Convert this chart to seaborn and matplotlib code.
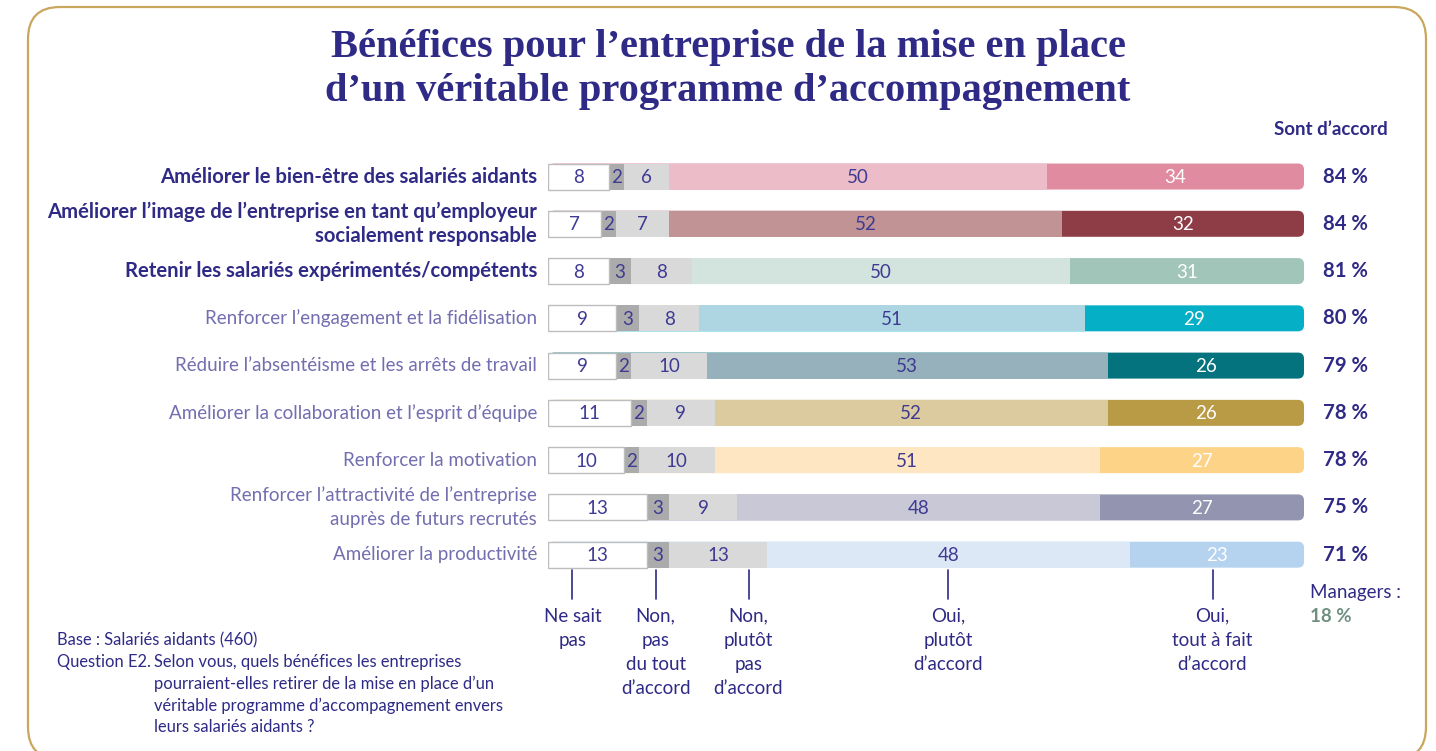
import matplotlib
matplotlib.use("Agg")
import matplotlib.pyplot as plt
from matplotlib.patches import FancyBboxPatch
import numpy as np
import pandas as pd
import seaborn as sns

# --- data ---
categories = [
    "Améliorer le bien-être des salariés aidants",
    "Améliorer l\u2019image de l\u2019entreprise en tant qu\u2019employeur\nsocialement responsable",
    "Retenir les salariés expérimentés/compétents",
    "Renforcer l\u2019engagement et la fidélisation",
    "Réduire l\u2019absentéisme et les arrêts de travail",
    "Améliorer la collaboration et l\u2019esprit d\u2019équipe",
    "Renforcer la motivation",
    "Renforcer l\u2019attractivité de l\u2019entreprise\nauprès de futurs recrutés",
    "Améliorer la productivité",
]
ne_sait_pas = [8, 7, 8, 9, 9, 11, 10, 13, 13]
non_pas_du_tout = [2, 2, 3, 3, 2, 2, 2, 3, 3]
non_plutot_pas = [6, 7, 8, 8, 10, 9, 10, 9, 13]
oui_plutot = [50, 52, 50, 51, 53, 52, 51, 48, 48]
oui_tout_a_fait = [34, 32, 31, 29, 26, 26, 27, 27, 23]
sont_daccord = [84, 84, 81, 80, 79, 78, 78, 75, 71]
segment_names = [
    "Ne sait\npas",
    "Non,\npas\ndu tout\nd\u2019accord",
    "Non,\nplutôt\npas\nd\u2019accord",
    "Oui,\nplutôt\nd\u2019accord",
    "Oui,\ntout à fait\nd\u2019accord",
]
managers_share = 18

# --- styling ---
INDIGO = "#2f2a85"
SOFT = "#726eaf"
NUM = "#3e3a93"
light_colors = ["#ecbdc8", "#c29394", "#d3e3de", "#add6e2", "#96b1bb",
                "#dccb9f", "#fde6c1", "#c8c8d6", "#dce8f6"]
dark_colors = ["#e08ba0", "#8e3d47", "#a1c5b9", "#05afc6", "#05737e",
               "#b99a45", "#fdd387", "#9294b0", "#b5d2ee"]
bold_rows = 3
key_x = [3.2, 14.2, 26.5, 52.9, 87.9]
FONT = "Lato"
FS = 13.5
FS_BOLD = 14.6

sns.set_theme(style="white")
plt.rcParams["font.family"] = [FONT, "DejaVu Sans"]

fig = plt.figure(figsize=(14.36, 7.51), dpi=100)
fig.patch.set_facecolor("white")

# pixel-space background axes for frame, title and footnote
bg = fig.add_axes([0, 0, 1, 1])
bg.set_xlim(0, 1436)
bg.set_ylim(751, 0)
bg.axis("off")
bg.add_patch(FancyBboxPatch((28, 7), 1398, 752, boxstyle="round,pad=0,rounding_size=32",
                            facecolor="white", edgecolor="#c9a75c", linewidth=1.6))

title_lines = ["Bénéfices pour l\u2019entreprise de la mise en place",
               "d\u2019un véritable programme d\u2019accompagnement"]
for i, t in enumerate(title_lines):
    bg.text(728, 47 + i * 44, t, ha="center", va="center", family="Liberation Serif",
            fontweight="bold", fontsize=29.2, color=INDIGO)

foot_left = ["Base : Salariés aidants (460)", "Question E2."]
foot_right = ["Selon vous, quels bénéfices les entreprises",
              "pourraient-elles retirer de la mise en place d\u2019un",
              "véritable programme d\u2019accompagnement envers",
              "leurs salariés aidants ?"]
for i, t in enumerate(foot_left):
    bg.text(57, 640 + i * 21.8, t, va="center", ha="left", fontsize=11.9, color=INDIGO)
for i, t in enumerate(foot_right):
    bg.text(154, 661.8 + i * 21.8, t, va="center", ha="left", fontsize=11.9, color=INDIGO)

# data axes: x 0..100 spans the bars
ax = fig.add_axes([548.3 / 1436, (751 - 578.3) / 751, 755.7 / 1436, 425.4 / 751])

segments = [ne_sait_pas, non_pas_du_tout, non_plutot_pas, oui_plutot, oui_tout_a_fait]
cum = np.cumsum(np.array(segments), axis=0)
layer_colors = [
    ["white"] * 9,
    ["#ababab"] * 9,
    ["#d9d9d9"] * 9,
    light_colors,
    dark_colors,
]

for k in range(4, -1, -1):
    df = pd.DataFrame({"cat": categories, "val": cum[k]})
    n_before = len(ax.patches)
    sns.barplot(data=df, x="val", y="cat", hue="cat", order=categories,
                hue_order=categories, palette=layer_colors[k], dodge=False,
                legend=False, errorbar=None, saturation=1, width=0.55, ax=ax,
                edgecolor="#bdbdbd" if k == 0 else "none",
                linewidth=1.0 if k == 0 else 0)
    if k == 4:
        # rounded right end on the full bars
        for p in list(ax.patches[n_before:]):
            x0, y0, w, h = p.get_x(), p.get_y(), p.get_width(), p.get_height()
            fc = p.get_facecolor()
            p.remove()
            ax.add_patch(FancyBboxPatch((x0, y0), w, h,
                                        boxstyle="round,pad=0,rounding_size=0.8",
                                        mutation_aspect=0.16, facecolor=fc,
                                        edgecolor="none", linewidth=0))

ax.set_xlim(0, 100)
ax.set_ylim(8.5, -0.5)
ax.axis("off")

# values inside segments
starts = np.vstack([np.zeros(9), cum[:-1]])
for k, seg in enumerate(segments):
    for i, v in enumerate(seg):
        ax.text(starts[k][i] + v / 2, i + 0.02, str(v), ha="center", va="center",
                fontsize=FS, color="white" if k == 4 else NUM)

# row labels
for i, lab in enumerate(categories):
    lines = lab.split("\n")
    for j, line in enumerate(lines):
        ax.text(-1.5, i + (j - (len(lines) - 1) / 2) * 0.508, line, ha="right",
                va="center", fontsize=FS_BOLD if i < bold_rows else FS,
                color=INDIGO if i < bold_rows else SOFT,
                fontweight="bold" if i < bold_rows else "normal")

# agree totals
ax.text(103.6, -1.0, "Sont d\u2019accord", ha="center", va="center", fontsize=FS,
        color=INDIGO, fontweight="bold")
for i, v in enumerate(sont_daccord):
    ax.text(105.5, i, f"{v} %", ha="center", va="center", fontsize=FS_BOLD,
            color=INDIGO, fontweight="bold")
ax.text(100.8, 8.79, "Managers :", ha="left", va="center", fontsize=FS, color=INDIGO)
ax.text(100.8, 9.30, f"{managers_share} %", ha="left", va="center", fontsize=FS,
        color="#6f9080", fontweight="bold")

# key below the bars
for xk, name in zip(key_x, segment_names):
    ax.plot([xk, xk], [8.32, 8.94], color=INDIGO, linewidth=1.2, clip_on=False)
    for j, line in enumerate(name.split("\n")):
        ax.text(xk, 9.30 + j * 0.514, line, ha="center", va="center",
                fontsize=FS, color=INDIGO)

fig.savefig("out.png", dpi=100)
